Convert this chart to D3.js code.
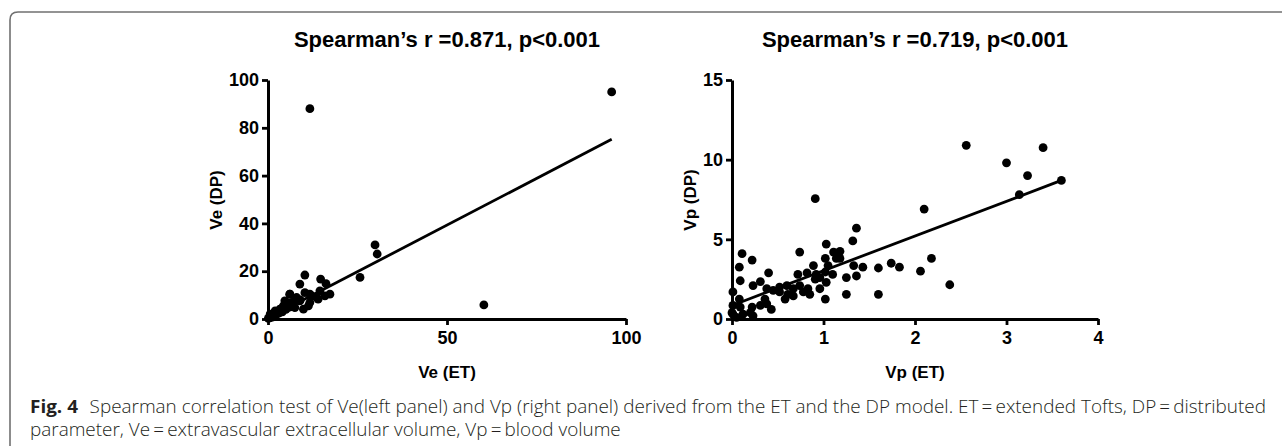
<!DOCTYPE html>
<meta charset="utf-8">
<style>
  body { margin: 0; background: #fff; }
</style>

<!-- Load d3.js -->
<script src="https://d3js.org/d3.v7.min.js"></script>

<!-- Create a div where the graph will take place -->
<div id="my_dataviz"></div>
<script>

// left panel: Ve (ET) vs Ve (DP)
var veET = [96, 11.7, 60.3, 29.9, 30.5, 25.7,
  10.3, 8.9, 14.7, 16.2, 17.3, 6.1, 10.3, 12.2, 14, 11.7, 8, 7.1, 5.2, 4.3, 3.4, 2, 0.6, 0.1,
  8.9, 11.3, 11.7, 13.6, 14.5, 15.9, 6.1, 4.7, 6.6, 8, 9.9, 7.5, 3.4, 2.4, 1.5, 0.6, 4.3, 5.7,
  1, 2, 3, 4, 5, 6, 7, 9, 0.3, 1.2, 2.6, 3.8];
var veDP = [95, 88, 5.9, 31, 27.2, 17.4,
  18.4, 14.6, 16.7, 14.8, 10.4, 10.4, 11, 9.7, 8.3, 6.9, 9, 6.9, 6.9, 5.5, 4.1, 3.4, 2, 0.3,
  7.6, 5.5, 10.4, 9, 11.8, 9.7, 10.4, 7.6, 6.9, 8.3, 4.1, 4.8, 4.1, 2.7, 2, 0.6, 4.8, 5.5,
  1, 1.5, 2.5, 3, 4, 5, 6, 8, 0.5, 0.8, 2.2, 3.1];
var veFit = [0.3, 0.78];   // intercept, slope
var veTitle = "Spearman\u2019s r =0.871, p<0.001";

// right panel: Vp (ET) vs Vp (DP)
var vpET = [0.91, 2.10, 1.36, 1.32, 1.03, 1.18, 1.11, 0.74, 0.11, 1.14, 2.18, 1.02, 0.22, 1.74,
  1.83, 1.43, 1.6, 0.08, 1.33, 2.06, 0.89, 0.40, 0.72, 0.82, 1.25, 1.36, 1.10, 0.31, 0.23, 0.09,
  0.01, 1.25, 1.6, 1.02, 0.58, 0.43, 0.96, 0.91, 1.03, 0.96, 0.83, 0.74, 0.67, 0.6, 0.52, 0.52,
  0.61, 0.67, 0.85, 0.78, 0.38, 0.36, 0.31, 0.38, 0.22, 0.2, 0.12, 0.09, 0.08, 0.01, 0.01, 0.05,
  0.23, 0, 0.45, 0.92, 1.05, 1.02, 1.18, 2.38, 2.56, 3.0, 3.4, 3.23, 3.14, 3.6];
var vpDP = [7.55, 6.9, 5.7, 4.9, 4.7, 4.25, 4.2, 4.2, 4.1, 3.8, 3.8, 3.8, 3.7, 3.5,
  3.25, 3.25, 3.2, 3.25, 3.35, 3.0, 3.35, 2.9, 2.8, 2.9, 2.6, 2.7, 2.8, 2.35, 2.1, 2.4,
  1.7, 1.55, 1.55, 1.25, 1.25, 0.6, 2.6, 2.5, 2.3, 1.9, 1.9, 2.1, 1.9, 2.1, 2.0, 1.7,
  1.55, 1.45, 1.55, 1.7, 1.9, 1.25, 0.85, 0.95, 0.75, 0.4, 0.3, 0.75, 1.25, 0.85, 0.3, 0.1,
  0.2, 0.4, 1.8, 2.8, 3.35, 2.95, 3.8, 2.15, 10.9, 9.8, 10.75, 9.0, 7.8, 8.7];
var vpFit = [0.85, 2.18];
var vpTitle = "Spearman\u2019s r =0.719, p<0.001";

var captionLead = "Fig. 4";
var caption1 = "Spearman correlation test of Ve(left panel) and Vp (right panel) derived from the ET and the DP model. ET\u2009=\u2009extended Tofts, DP\u2009=\u2009distributed";
var caption2 = "parameter, Ve\u2009=\u2009extravascular extracellular volume, Vp\u2009=\u2009blood volume";

var W = 1282, H = 446;

var svg = d3.select("#my_dataviz")
  .append("svg")
    .attr("width", W)
    .attr("height", H)
    .style("display", "block");

// grey rounded frame (only top-left corner visible)
svg.append("path")
    .attr("d", "M10," + (H + 5) + " L10,20 Q10,12 18,12 L" + (W + 5) + ",12")
    .attr("fill", "none")
    .attr("stroke", "#707070")
    .attr("stroke-width", 1.6);

var fontAxis = "'Liberation Sans', Arial, sans-serif";

function panel(xs, ys, fit, xDomain, yDomain, xTicks, yTicks, xRange, title, xLabel, yLabel, yLabelOff) {
  var x = d3.scaleLinear().domain(xDomain).range(xRange);
  var y = d3.scaleLinear().domain(yDomain).range([319, 80]);

  var g = svg.append("g");

  // axes
  var xa = g.append("g")
      .attr("transform", "translate(0,319)")
      .call(d3.axisBottom(x).tickValues(xTicks).tickFormat(d3.format("d"))
        .tickSize(6).tickPadding(6).tickSizeOuter(0));
  var ya = g.append("g")
      .attr("transform", "translate(" + xRange[0] + ",0)")
      .call(d3.axisLeft(y).tickValues(yTicks).tickFormat(d3.format("d"))
        .tickSize(6).tickPadding(3).tickSizeOuter(0));
  [xa, ya].forEach(function(a) {
    a.select(".domain").style("stroke", "#000").style("stroke-width", "3px");
    a.selectAll(".tick line").style("stroke", "#000").style("stroke-width", "2.8px");
    a.selectAll(".tick text")
      .attr("fill", "#000")
      .style("font-family", fontAxis)
      .style("font-weight", "bold")
      .style("font-size", "18px");
  });

  // regression line over the data range
  var x0 = d3.min(xs), x1 = d3.max(xs);
  g.append("line")
      .attr("x1", x(x0)).attr("y1", y(fit[0] + fit[1] * x0))
      .attr("x2", x(x1)).attr("y2", y(fit[0] + fit[1] * x1))
      .attr("stroke", "#000")
      .attr("stroke-width", 2.8);

  // points
  g.selectAll("circle")
    .data(xs)
    .enter()
    .append("circle")
      .attr("cx", function(d) { return x(d); })
      .attr("cy", function(d, i) { return y(ys[i]); })
      .attr("r", 4.4)
      .style("fill", "#000");

  var mid = (xRange[0] + xRange[1]) / 2;
  g.append("text")
      .attr("x", mid).attr("y", 47)
      .text(title)
      .style("font-family", fontAxis)
      .style("font-weight", "bold")
      .style("font-size", "22px")
      .style("text-anchor", "middle");
  g.append("text")
      .attr("x", mid).attr("y", 378)
      .text(xLabel)
      .style("font-family", fontAxis)
      .style("font-weight", "bold")
      .style("font-size", "17px")
      .style("text-anchor", "middle");
  g.append("text")
      .attr("transform", "translate(" + (xRange[0] - yLabelOff) + ",200) rotate(-90)")
      .text(yLabel)
      .style("font-family", fontAxis)
      .style("font-weight", "bold")
      .style("font-size", "17px")
      .style("text-anchor", "middle");
}

panel(veET, veDP, veFit, [0, 100], [0, 100], [0, 50, 100], [0, 20, 40, 60, 80, 100],
      [268, 626], veTitle, "Ve (ET)", "Ve (DP)", 46);
panel(vpET, vpDP, vpFit, [0, 4], [0, 15], [0, 1, 2, 3, 4], [0, 5, 10, 15],
      [732, 1098], vpTitle, "Vp (ET)", "Vp (DP)", 36);

// caption: light condensed text, squeezed horizontally to the reference width
var capFont = "'Open Sans', 'Noto Sans', sans-serif";
var capG = svg.append("g");
var lead = capG.append("text")
    .attr("x", 0).attr("y", 413)
    .text(captionLead)
    .style("font-family", capFont)
    .style("font-size", "18px")
    .style("font-weight", "bold")
    .style("fill", "#231f20");
var leadW = lead.node().getComputedTextLength();
var line1 = capG.append("text")
    .attr("x", leadW + 11).attr("y", 413)
    .text(caption1)
    .style("font-family", capFont)
    .style("font-size", "18px")
    .style("font-weight", 300)
    .style("fill", "#231f20");
capG.append("text")
    .attr("x", 0).attr("y", 436)
    .text(caption2)
    .style("font-family", capFont)
    .style("font-size", "18px")
    .style("font-weight", 300)
    .style("fill", "#231f20");
var natural = leadW + 11 + line1.node().getComputedTextLength();
var k = 1237 / natural;
capG.attr("transform", "translate(30,0) scale(" + k + ",1)");

</script>
